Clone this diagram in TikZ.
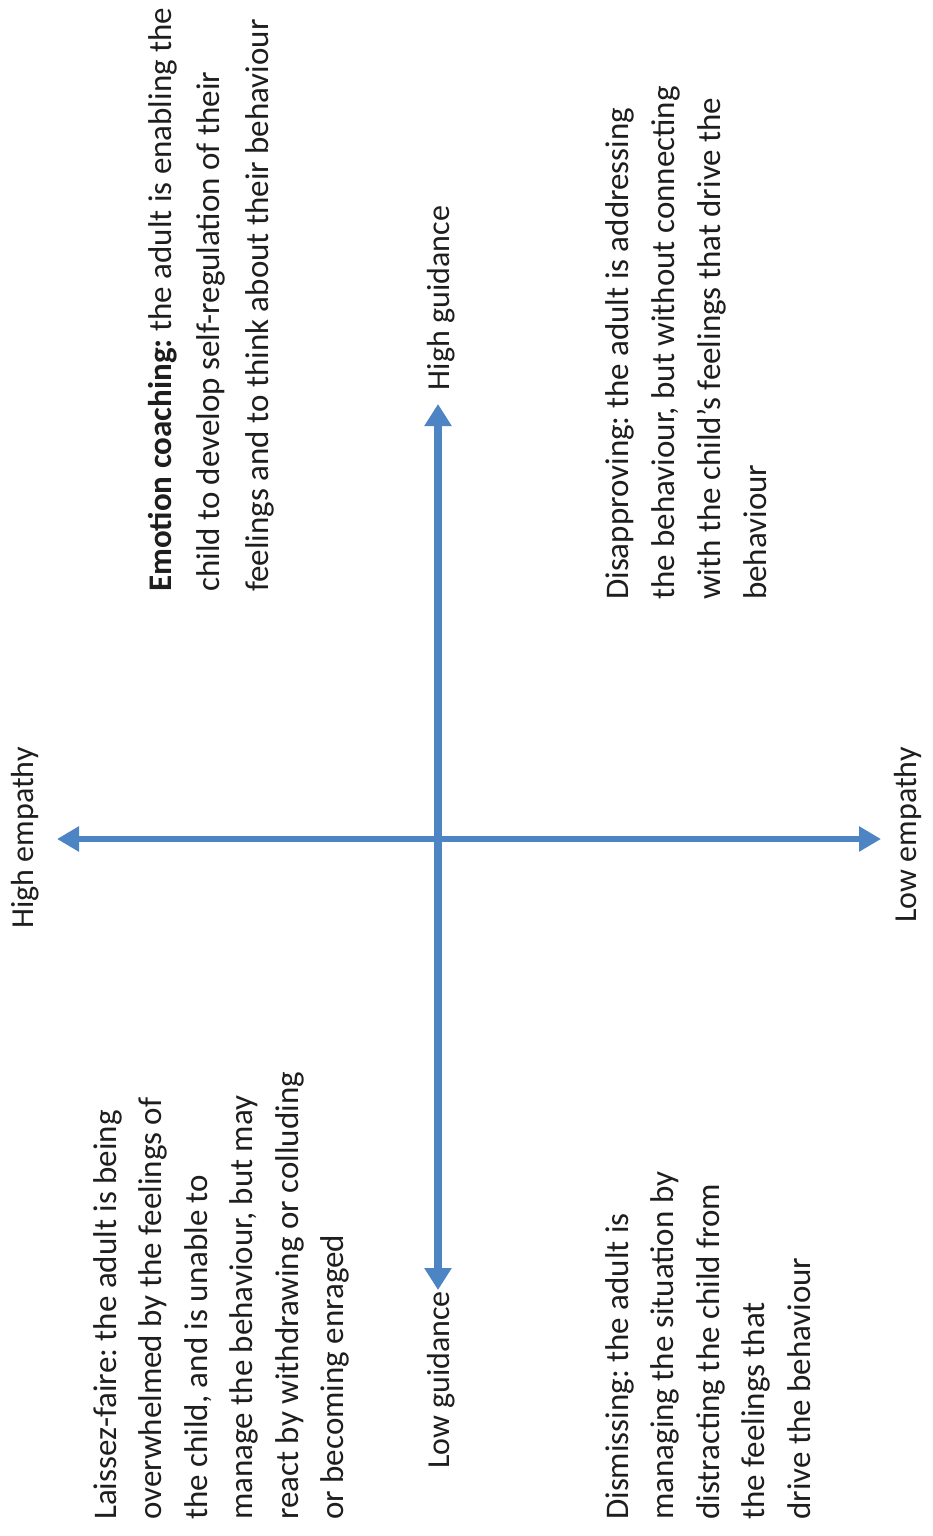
\documentclass[tikz,border=0pt]{standalone}
\usepackage{fontspec}
\setmainfont{Carlito}
\usetikzlibrary{arrows.meta}
\definecolor{axisblue}{RGB}{76,132,196}
\definecolor{txt}{RGB}{30,30,30}
\frenchspacing
\begin{document}
\begin{tikzpicture}[x=1pt,y=-1pt,
  blocktext/.style={rotate=90, anchor=north west, align=left, inner sep=0pt, text=txt},
  axislabel/.style={rotate=90, inner sep=0pt, text=txt, font=\fontsize{32}{40}\selectfont},
  vaxis/.style={draw=axisblue, line width=8pt, {Triangle[width=26pt,length=22pt]}-{Triangle[width=26pt,length=22pt]}},
  haxis/.style={draw=axisblue, line width=6pt, {Triangle[width=24pt,length=22pt]}-{Triangle[width=24pt,length=22pt]}}
]
\fill[white] (0,0) rectangle (932,1536);
\useasboundingbox (0,0) rectangle (932,1536);

% axes
\coordinate (hgTip) at (438,404);
\coordinate (lgTip) at (438,1290);
\coordinate (heTip) at (57,839);
\coordinate (leTip) at (881,839);
\draw[vaxis] (lgTip) -- (hgTip);
\draw[haxis] (heTip) -- (leTip);

% axis labels
\node[axislabel] (highemp) at (25,838) {High empathy};
\node[axislabel] (lowemp) at (908,835) {Low empathy};
\node[axislabel] (highguid) at (441,298) {High guidance};
\node[axislabel] (lowguid) at (441,1380) {Low guidance};

% quadrant texts
\node[blocktext, font=\fontsize{33}{48.5}\selectfont] (emo) at (148,592)
  {\textbf{Emotion coaching:} the adult is enabling the\\
   child to develop self-regulation of their\\
   feelings and to think about their behaviour};

\node[blocktext, font=\fontsize{33}{46}\selectfont] (disap) at (605,600)
  {Disapproving: the adult is addressing\\
   the behaviour, but without connecting\\
   with the child’s feelings that drive the\\
   behaviour};

\node[blocktext, font=\fontsize{33}{45.5}\selectfont] (laiss) at (93,1520)
  {Laissez-faire: the adult is being\\
   overwhelmed by the feelings of\\
   the child, and is unable to\\
   manage the behaviour, but may\\
   react by withdrawing or colluding\\
   or becoming enraged};

\node[blocktext, font=\fontsize{33}{45.5}\selectfont] (dism) at (605,1520)
  {Dismissing: the adult is\\
   managing the situation by\\
   distracting the child from\\
   the feelings that\\
   drive the behaviour};
\end{tikzpicture}
\end{document}
